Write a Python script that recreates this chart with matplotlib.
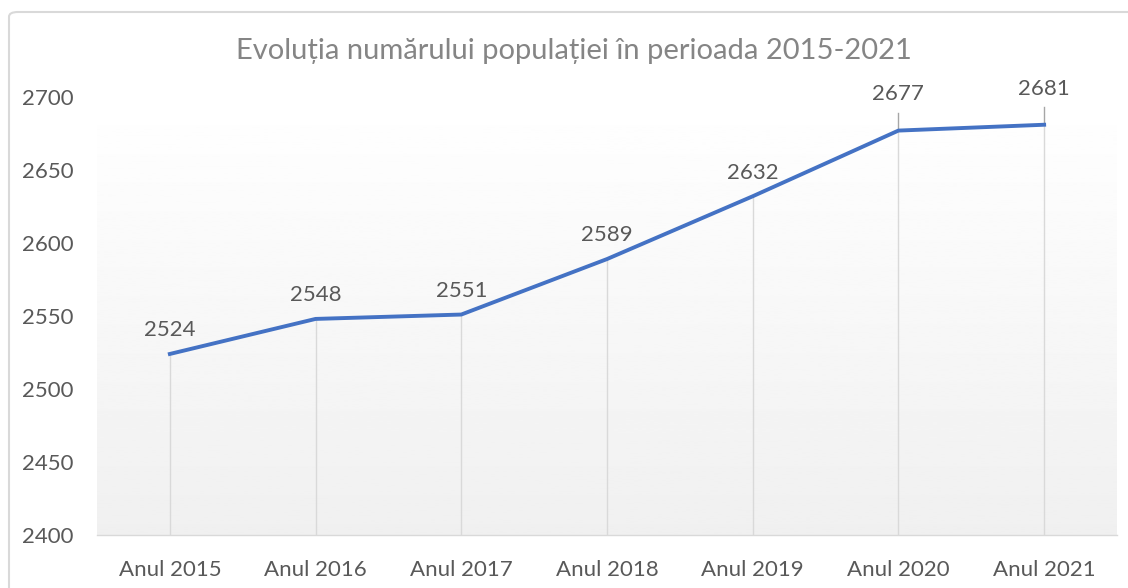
import matplotlib.pyplot as plt
import numpy as np
from matplotlib.patches import FancyBboxPatch

# Datos: populația pe ani
ani = ['Anul 2015', 'Anul 2016', 'Anul 2017', 'Anul 2018', 'Anul 2019', 'Anul 2020', 'Anul 2021']
populatie = [2524, 2548, 2551, 2589, 2632, 2677, 2681]
yticks = [2400, 2450, 2500, 2550, 2600, 2650, 2700]

plt.rcParams['font.family'] = ['Lato', 'DejaVu Sans']
gri_text = '#595959'
gri_linii = '#d9d9d9'

fig = plt.figure(figsize=(11.28, 5.88), dpi=100)
ax = fig.add_axes([97 / 1128, 1 - 535 / 588, 1020 / 1128, 438 / 588])

x = np.arange(len(ani))
ax.set_xlim(-0.5, len(ani) - 0.5)
ax.set_ylim(2400, 2700)

# fundal cu gradient (alb sus, gri deschis jos)
grad = np.linspace(1.0, 0.94, 256).reshape(-1, 1)
ax.imshow(grad, extent=[-0.5, len(ani) - 0.5, 2400, 2700], aspect='auto',
          cmap='gray', vmin=0, vmax=1, zorder=0, origin='upper')

# linii verticale de la puncte la axa
ax.vlines(x, 2400, populatie, color=gri_linii, linewidth=1, zorder=1)

ax.plot(x, populatie, color='#4472C4', linewidth=2.8, solid_joinstyle='round', zorder=3)

# etichete de date
for i, v in enumerate(populatie):
    if i >= 5:
        # etichete mutate mai sus, cu linie de legatura
        ax.plot([i, i], [v + 1, v + 12], color='#a6a6a6', linewidth=1, zorder=2)
        ax.annotate(str(v), (i, v), xytext=(0, 26), textcoords='offset points',
                    ha='center', va='center', fontsize=16, color=gri_text)
    else:
        ax.annotate(str(v), (i, v), xytext=(0, 17), textcoords='offset points',
                    ha='center', va='center', fontsize=16, color=gri_text)

ax.set_xticks(x)
ax.set_xticklabels(ani, fontsize=16, color=gri_text)
ax.set_yticks(yticks)
ax.set_yticklabels([str(t) for t in yticks], fontsize=16, color=gri_text)
ax.tick_params(axis='both', length=0)
ax.tick_params(axis='x', pad=18)
ax.tick_params(axis='y', pad=17)

for s in ['top', 'right', 'left']:
    ax.spines[s].set_visible(False)
ax.spines['bottom'].set_color(gri_linii)
ax.spines['bottom'].set_linewidth(1)
ax.spines['bottom'].set_zorder(4)

fig.text(574 / 1128, 1 - 51 / 588, 'Evoluția numărului populației în perioada 2015-2021',
         ha='center', va='center', fontsize=21, color='#858585')

# chenarul diagramei
chenar = FancyBboxPatch((9 / 1128, -0.1), 1.2, 1 - 12 / 588 + 0.1,
                        boxstyle='round,pad=0,rounding_size=0.008',
                        transform=fig.transFigure, facecolor='none',
                        edgecolor=gri_linii, linewidth=1.5)
fig.patches.append(chenar)

plt.savefig('out.png', dpi=100)
